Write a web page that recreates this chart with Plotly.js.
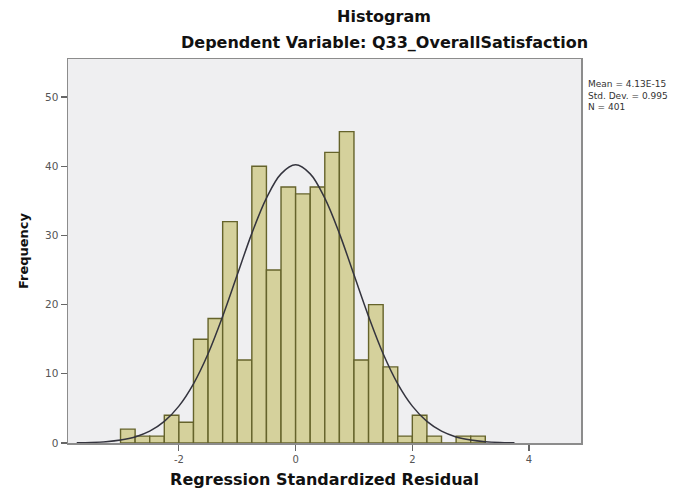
<!DOCTYPE html>
<html>
<head>
<meta charset="utf-8">
<script src="https://cdn.plot.ly/plotly-3.0.1.min.js"></script>
<style>html,body{margin:0;padding:0;background:#fff;}#chart{width:694px;height:493px;}</style>
</head>
<body>
<div id="chart"></div>
<script>
// Histogram bins (width 0.25) and their counts
var binCenters = [-2.875, -2.625, -2.375, -2.125, -1.875, -1.625, -1.375, -1.125, -0.875, -0.625,
                  -0.375, -0.125, 0.125, 0.375, 0.625, 0.875, 1.125, 1.375, 1.625, 1.875,
                  2.125, 2.375, 2.625, 2.875, 3.125];
var frequencies = [2, 1, 1, 4, 3, 15, 18, 32, 12, 40,
                   25, 37, 36, 37, 42, 45, 12, 20, 11, 1,
                   4, 1, 0, 1, 1];
// Normal curve
var curveX = [-3.75, -3.5, -3.25, -3.0, -2.75, -2.5, -2.25, -2.0, -1.75, -1.5, -1.25, -1.0, -0.75, -0.5, -0.25,
              0, 0.25, 0.5, 0.75, 1.0, 1.25, 1.5, 1.75, 2.0, 2.25, 2.5, 2.75, 3.0, 3.25, 3.5, 3.75];
var curveY = [0.03, 0.08, 0.19, 0.43, 0.88, 1.71, 3.12, 5.33, 8.55, 12.9, 18.3, 24.3, 30.3, 35.4, 38.9,
              40.2, 38.9, 35.4, 30.3, 24.3, 18.3, 12.9, 8.55, 5.33, 3.12, 1.71, 0.88, 0.43, 0.19, 0.08, 0.03];
var xTicks = [-2, 0, 2, 4];
var yTicks = [0, 10, 20, 30, 40, 50];
var statsLines = ["Mean = 4.13E-15", "Std. Dev. = 0.995", "N = 401"];
var binWidth = 0.25;

var traces = [
  {
    type: 'bar', x: binCenters, y: frequencies, width: binWidth,
    marker: {color: '#d5d19c', line: {color: '#65632b', width: 1.4}},
    hoverinfo: 'x+y', showlegend: false
  },
  {
    type: 'scatter', mode: 'lines', x: curveX, y: curveY,
    line: {color: '#34343e', width: 1.5, shape: 'spline'},
    hoverinfo: 'skip', showlegend: false
  }
];

var FONT = 'DejaVu Sans, Verdana, sans-serif';
var annotations = [
  {text: 'Dependent Variable: Q33_OverallSatisfaction', xref: 'paper', yref: 'paper',
   x: (384 - 68) / 513, y: (443 - 43) / 384, xanchor: 'center', yanchor: 'middle', showarrow: false,
   font: {family: FONT, size: 16, color: '#111', weight: 'bold'}},
  {text: statsLines.join('<br>'), xref: 'paper', yref: 'paper', align: 'left',
   x: (587 - 68) / 513, y: (443 - 78) / 384, xanchor: 'left', yanchor: 'top', showarrow: false,
   borderpad: 0,
   font: {family: FONT, size: 9, color: '#333'}}
];

var layout = {
  width: 694, height: 493,
  margin: {l: 68, r: 113, t: 59, b: 50, pad: 0},
  paper_bgcolor: '#ffffff', plot_bgcolor: '#efeff1',
  bargap: 0,
  title: {text: 'Histogram', x: 384 / 694, xanchor: 'center', y: 1 - 16 / 493, yanchor: 'middle',
          font: {family: FONT, size: 16, color: '#111', weight: 'bold'}},
  xaxis: {
    range: [-3.9, 4.89], tickvals: xTicks, ticktext: xTicks.map(String),
    showgrid: false, zeroline: false, showline: true, mirror: true,
    linecolor: '#8c8c8c', linewidth: 1.5,
    ticks: 'outside', ticklen: 6, tickcolor: '#666', tickwidth: 1.2,
    tickfont: {family: FONT, size: 10, color: '#555'},
    title: {text: 'Regression Standardized Residual', standoff: 10,
            font: {family: FONT, size: 16, color: '#111', weight: 'bold'}}
  },
  yaxis: {
    range: [0, 55.5], tickvals: yTicks, ticktext: yTicks.map(String),
    showgrid: false, zeroline: false, showline: true, mirror: true,
    linecolor: '#8c8c8c', linewidth: 1.5,
    ticks: 'outside', ticklen: 6, tickcolor: '#666', tickwidth: 1.2,
    tickfont: {family: FONT, size: 10.5, color: '#555'},
    title: {text: 'Frequency', standoff: 13,
            font: {family: FONT, size: 13, color: '#111', weight: 'bold'}}
  },
  annotations: annotations
};

Plotly.newPlot('chart', traces, layout, {displayModeBar: false, staticPlot: true});
</script>
</body>
</html>
